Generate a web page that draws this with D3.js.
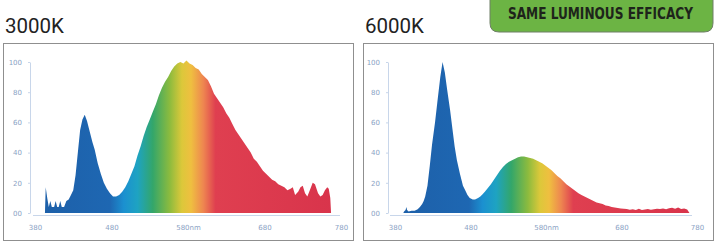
<!DOCTYPE html>
<html>
<head>
<meta charset="utf-8">
<script src="https://cdn.jsdelivr.net/npm/d3@7"></script>
<style>
  body { margin: 0; background: #fff; }
  svg { display: block; }
  .tick text { font-family: "DejaVu Sans", sans-serif; }
</style>
</head>
<body>
<svg id="chart" width="714" height="248"></svg>
<script>
// panel titles and badge
const titles = ["3000K", "6000K"];
const badgeText = "SAME LUMINOUS EFFICACY";

// axis ticks
const yTicks = [0, 20, 40, 60, 80, 100];
const xTicks = [380, 480, 580, 680, 780];
const xTickLabels = ["380", "480", "580nm", "680", "780"];

// 3000K spectrum (wavelength nm, relative power)
const nm3000 = [393,394,396,398,400,402,405,407,409,411,413,415,418,421,424,427,430,433,436,439,442,445,448,451,455,458,462,466,470,474,478,482,486,490,494,498,502,506,510,514,518,522,526,530,534,538,542,546,550,554,558,562,566,570,574,578,582,586,590,594,598,602,606,610,614,618,622,626,630,634,638,642,646,650,654,658,662,666,670,674,678,682,686,690,694,698,702,706,710,714,717,720,724,727,730,733,736,740,743,746,750,753,756,759,762,764,766,767];
const power3000 = [0,17,10,4,8,4,4,8,4,4,8,4,4,8,9,12,15,25,40,55,62,65,61,55,47,42,33,26,20,16,13,11,11,12,14,17,21,26,31,38,44,51,57,62,67,72,78,83,87,90,94,97,99,100,99,101,99,98,96,95,92,90,88,84,79,76,73,70,66,63,59,55,52,49,46,43,40,36,34,31,28,26,24,22,21,19,18,17,15,16,17,12,14,17,18,13,11,16,20,19,13,11,12,15,17,16,10,0];

// 6000K spectrum
const nm6000 = [391,392,394,395,396,398,402,406,410,413,416,418,420,423,426,429,433,436,440,443,446,449,453,456,459,462,466,470,473,476,479,483,486,490,493,496,499,503,507,511,515,519,523,527,531,535,539,543,547,551,555,559,563,567,571,575,579,583,587,591,595,599,603,607,611,615,619,623,627,631,635,639,643,647,651,655,659,663,667,671,675,679,683,687,691,695,699,703,707,711,715,719,723,727,731,735,739,743,747,751,755,759,763,767,770];
const power6000 = [0,1,2,4,2,1,1.5,1.5,2.5,4,6,8,11,18,31,45,60,73,90,100,93,82,68,56,44,35,26,18,15,12,10,9,9,10,11,12.5,14,16.5,19,22,25,28,30.5,32.5,34,35,36,37,37.5,37.5,37,36.5,36,35,34,33,31.5,30,28.5,26.5,24.5,23,21,19,17.5,16,14.5,13,12,11,10,9,8,7,6.5,6,5,4.6,4,3.6,3.3,3,2.8,2.6,2.2,2.5,2,2.8,2,2.4,2.6,2.2,2.5,2.8,2.6,3,2.5,3.2,3.5,2.8,3.6,2.6,3,2.4,0];

// spectral colour stops
const stopNm = [380, 478, 496, 514, 534, 556, 572, 584, 600, 616, 780];
const stopColor = ["#1d5fa8", "#1e67b2", "#1b90d0", "#1ea3c2", "#33a66a", "#8cbb3e", "#dcc83a", "#efbf40", "#ee8650", "#df3f50", "#d8334b"];

const svg = d3.select("#chart");
const defs = svg.append("defs");

const panels = [
  {title: titles[0], nm: nm3000, p: power3000, box: [3, 43, 350, 197], x0: 35, x1: 341, axisX: 30, tx: 5, lineX: [33, 340]},
  {title: titles[1], nm: nm6000, p: power6000, box: [363, 43, 350, 197], x0: 395, x1: 697, axisX: 388, tx: 365, lineX: [390, 692]}
];

const y = d3.scaleLinear().domain([0, 100]).range([213, 62]);

panels.forEach((pn, i) => {
  const g = svg.append("g");
  const x = d3.scaleLinear().domain([380, 780]).range([pn.x0, pn.x1]);

  g.append("text")
    .attr("x", pn.tx).attr("y", 33)
    .attr("font-family", "Roboto, sans-serif")
    .attr("font-size", 20.5)
    .attr("fill", "#222")
    .text(pn.title);

  g.append("rect")
    .attr("x", pn.box[0] + 0.5).attr("y", pn.box[1] + 0.5)
    .attr("width", pn.box[2]).attr("height", pn.box[3])
    .attr("fill", "#fff").attr("stroke", "#8f8f8f");

  // gradient across wavelengths
  const grad = defs.append("linearGradient")
    .attr("id", "spec" + i)
    .attr("gradientUnits", "userSpaceOnUse")
    .attr("x1", x(380)).attr("x2", x(780)).attr("y1", 0).attr("y2", 0);
  stopNm.forEach((s, k) => {
    grad.append("stop")
      .attr("offset", (s - 380) / 400)
      .attr("stop-color", stopColor[k]);
  });

  const data = pn.nm.map((d, k) => ({nm: d, v: pn.p[k]}));
  const area = d3.area()
    .x(d => x(d.nm))
    .y0(y(0))
    .y1(d => y(d.v));

  g.append("path")
    .datum(data)
    .attr("d", area)
    .attr("fill", "url(#spec" + i + ")");

  // y axis
  const ya = g.append("g")
    .attr("transform", "translate(" + pn.axisX + ",0)")
    .call(d3.axisLeft(y).tickValues(yTicks).tickSize(2).tickSizeOuter(0).tickPadding(6)
      .tickFormat(d => d === 0 ? "00" : d));
  ya.select(".domain").attr("stroke", "#c8d6ea");
  ya.selectAll(".tick line").attr("stroke", "#c8d6ea");
  ya.selectAll(".tick text").attr("fill", "#8aa2c4").attr("font-size", 7);

  // x axis
  g.append("line")
    .attr("x1", pn.lineX[0]).attr("x2", pn.lineX[1])
    .attr("y1", 215.5).attr("y2", 215.5)
    .attr("stroke", "#c8d6ea");
  const xa = g.append("g")
    .attr("transform", "translate(0,215)")
    .call(d3.axisBottom(x).tickValues(xTicks).tickSize(0).tickPadding(10)
      .tickFormat((d, k) => xTickLabels[k]));
  xa.select(".domain").remove();
  xa.selectAll(".tick text").attr("fill", "#8aa2c4").attr("font-size", 7);
});

// green badge
const bx = 490, bw = 223, bh = 32, r = 9;
svg.append("path")
  .attr("d", "M" + bx + ",-2 L" + bx + "," + (bh - r) +
    " Q" + bx + "," + bh + " " + (bx + r) + "," + bh +
    " L" + (bx + bw - r) + "," + bh +
    " Q" + (bx + bw) + "," + bh + " " + (bx + bw) + "," + (bh - r) +
    " L" + (bx + bw) + ",-2 Z")
  .attr("fill", "#6cb444")
  .attr("stroke", "#6e7f66")
  .attr("stroke-width", 1);

svg.append("text")
  .attr("x", 600.5).attr("y", 18.5)
  .attr("text-anchor", "middle")
  .attr("font-family", "'Liberation Sans Narrow', 'DejaVu Sans Condensed', Roboto, sans-serif")
  .attr("font-weight", "bold")
  .attr("font-size", 15)
  .attr("textLength", 185)
  .attr("lengthAdjust", "spacingAndGlyphs")
  .attr("fill", "#1e241b")
  .text(badgeText);
</script>
</body>
</html>
